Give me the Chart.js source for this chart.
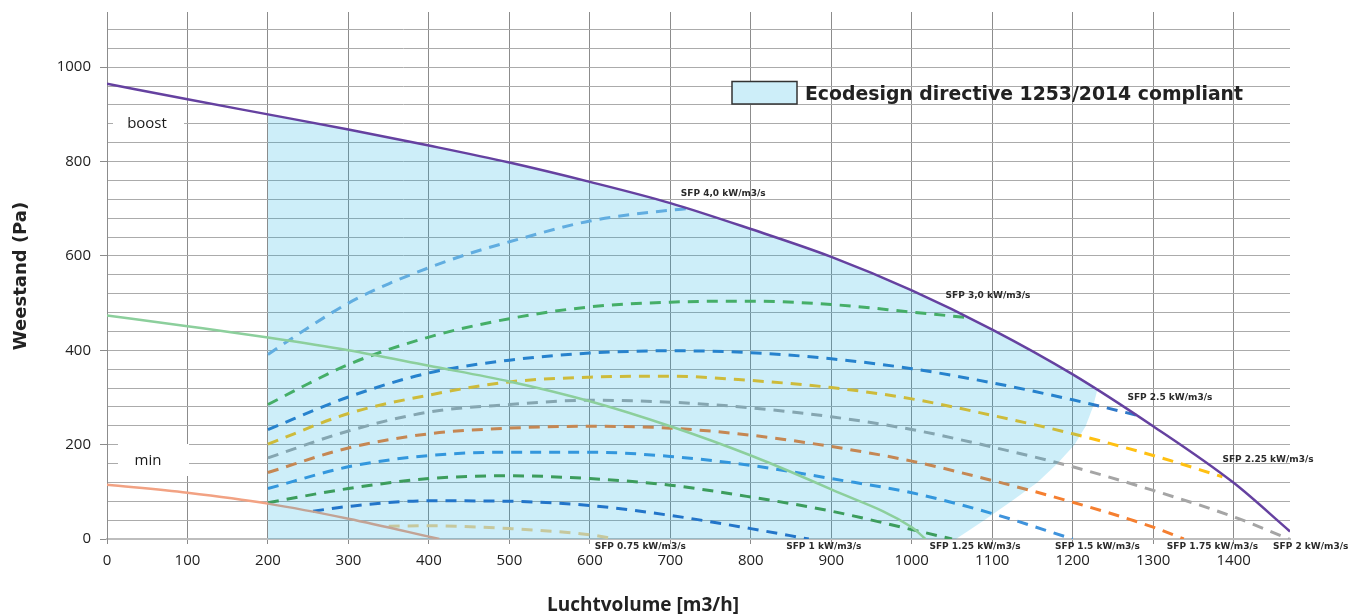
<!DOCTYPE html>
<html><head><meta charset="utf-8">
<script src="https://cdn.jsdelivr.net/npm/chart.js@4/dist/chart.umd.min.js"></script>
<style>html,body{margin:0;padding:0;background:#fff}canvas{display:block}</style>
</head><body>
<canvas id="c" width="1349" height="614"></canvas>
<script>
// ---- data ----
const boostFlow = [0,100,200,300,400,500,600,700,800,900,1000,1100,1200,1300,1400,1470];
const boostPa   = [965,932,900,868,834,798,757,712,657,598,527,444,349,239,119,16];

const normalFlow = [0,100,200,300,400,500,600,700,800,900,1000,1017];
const normalPa   = [474,451,427,400,367,334,292,239,177,105,25,0];

const minFlow = [0,100,200,300,413];
const minPa   = [115,98,75,43,0];

const compliantFlow = [200,300,400,500,600,700,800,900,1000,1100,1200,1231,1225,1216,1202,1181,1156,1123,1090,1055,200];
const compliantPa   = [900,868,834,798,757,712,657,598,527,444,349,319,279,239,199,160,120,79,40,0,0];

const sfp40Flow = [200,250,300,350,400,450,500,600,700,721];
const sfp40Pa   = [391,448,500,541,575,605,630,674,697,700];
const sfp30Flow = [200,250,300,400,500,600,700,800,900,1000,1065];
const sfp30Pa   = [285,329,370,428,467,492,502,504,497,481,470];
const sfp25Flow = [200,300,400,500,600,700,800,900,1000,1100,1200,1281];
const sfp25Pa   = [232,301,352,379,394,399,395,382,361,331,295,262];
const sfp225Flow = [200,300,400,500,600,700,800,900,1000,1100,1200,1300,1386];
const sfp225Pa   = [201,266,305,333,343,345,336,321,297,262,223,177,132];
const sfp20Flow = [200,300,400,500,600,700,800,900,1000,1100,1200,1300,1400,1469];
const sfp20Pa   = [172,229,269,285,294,290,278,259,232,195,153,103,47,0];
const sfp175Flow = [200,300,400,500,600,700,800,900,1000,1100,1200,1300,1338];
const sfp175Pa   = [141,193,223,235,239,235,220,196,165,124,78,25,0];
const sfp15Flow = [200,300,400,500,600,700,800,900,1000,1100,1200];
const sfp15Pa   = [107,153,177,184,184,175,156,128,98,54,0];
const sfp125Flow = [200,300,400,500,600,700,800,900,1000,1050];
const sfp125Pa   = [77,107,128,134,128,114,89,59,20,0];
const sfp10Flow = [256,300,400,500,600,700,800,872];
const sfp10Pa   = [59,69,81,80,71,50,22,0];
const sfp075Flow = [350,400,500,600,632];
const sfp075Pa   = [27,28,22,9,0];

const sfpNames = ['SFP 4,0 kW/m3/s','SFP 3,0 kW/m3/s','SFP 2.5 kW/m3/s','SFP 2.25 kW/m3/s','SFP 2 kW/m3/s',
                  'SFP 1.75 kW/m3/s','SFP 1.5 kW/m3/s','SFP 1.25 kW/m3/s','SFP 1 kW/m3/s','SFP 0.75 kW/m3/s'];
const legendText = 'Ecodesign directive 1253/2014 compliant';

// ---- layout of annotations (data coordinates) ----
const sfpLabelAt = [[713,732],[1042,516],[1268,300],[1386,168],[1449,-16],[1317,-16],[1178,-16],[1022,-16],[844,-16],[606,-16]];

const pts = (xs, ys) => xs.map((x, i) => ({x, y: ys[i]}));
const solid = (label, xs, ys, color, order) => ({
  label, data: pts(xs, ys), borderColor: color, borderWidth: 2.5, pointRadius: 0,
  fill: false, cubicInterpolationMode: 'monotone', order
});
const dashed = (label, xs, ys, color) => ({
  label, data: pts(xs, ys), borderColor: color, borderWidth: 3, borderDash: [11, 8], pointRadius: 0,
  fill: false, cubicInterpolationMode: 'monotone', order: 2
});

const annot = {
  id: 'annot',
  beforeDatasetsDraw(chart) {
    const ctx = chart.ctx;
    ctx.save();
    ctx.fillStyle = '#fff';
    ctx.fillRect(113, 110, 71, 28);
    ctx.fillRect(118, 444, 71, 32);
    ctx.fillStyle = '#1a1a1a';
    ctx.font = '15px "Open Sans"';
    ctx.textAlign = 'center'; ctx.textBaseline = 'middle';
    ctx.fillText('boost', 147, 124);
    ctx.fillText('min', 148, 461);
    ctx.restore();
  },
  afterDraw(chart) {
    const {ctx, scales: {x, y}} = chart;
    ctx.save();
    ctx.font = 'bold 9px "DejaVu Sans"';
    ctx.fillStyle = '#2b2b2b'; ctx.textAlign = 'left'; ctx.textBaseline = 'middle';
    sfpNames.forEach((t, i) => {
      ctx.fillText(t, x.getPixelForValue(sfpLabelAt[i][0]), y.getPixelForValue(sfpLabelAt[i][1]));
    });
    // legend
    ctx.fillStyle = '#cdeef9';
    ctx.fillRect(732, 81.5, 65, 22.5);
    ctx.strokeStyle = '#333'; ctx.lineWidth = 1.5;
    ctx.strokeRect(732, 81.5, 65, 22.5);
    ctx.fillStyle = '#222';
    ctx.font = 'bold 19px "DejaVu Sans"';
    ctx.textBaseline = 'alphabetic';
    ctx.fillText(legendText, 805, 100, 438);
    // axis titles
    ctx.font = 'bold 19px "Open Sans"';
    ctx.textAlign = 'center';
    ctx.fillText('Luchtvolume [m3/h]', 643, 611, 192);
    ctx.translate(21, 276);
    ctx.rotate(-Math.PI / 2);
    ctx.font = 'bold 18px "DejaVu Sans"';
    ctx.textBaseline = 'middle';
    ctx.fillText('Weestand (Pa)', 0, 0);
    ctx.restore();
  }
};

const noPad = s => { s.paddingTop = 0; s.paddingBottom = 0; s.paddingLeft = 0; s.paddingRight = 0; };

Chart.defaults.font.family = '"Open Sans"';
new Chart(document.getElementById('c'), {
  type: 'line',
  data: {
    datasets: [
      solid('boost', boostFlow, boostPa, '#6541a0', 0),
      solid('normal', normalFlow, normalPa, '#8ccf9c', 0),
      {
        label: legendText, data: pts(compliantFlow, compliantPa),
        borderWidth: 0, borderColor: 'rgba(0,0,0,0)', backgroundColor: 'rgba(5,170,225,0.2)',
        fill: 'shape', tension: 0, pointRadius: 0, order: 1
      },
      solid('min', minFlow, minPa, '#f2a283', 2),
      dashed(sfpNames[0], sfp40Flow, sfp40Pa, '#78aee0'),
      dashed(sfpNames[1], sfp30Flow, sfp30Pa, '#55b04a'),
      dashed(sfpNames[2], sfp25Flow, sfp25Pa, '#2f78c8'),
      dashed(sfpNames[3], sfp225Flow, sfp225Pa, '#ffc012'),
      dashed(sfpNames[4], sfp20Flow, sfp20Pa, '#a5a5a5'),
      dashed(sfpNames[5], sfp175Flow, sfp175Pa, '#f57f30'),
      dashed(sfpNames[6], sfp15Flow, sfp15Pa, '#3f93dc'),
      dashed(sfpNames[7], sfp125Flow, sfp125Pa, '#4a9a3c'),
      dashed(sfpNames[8], sfp10Flow, sfp10Pa, '#2a68c4'),
      dashed(sfpNames[9], sfp075Flow, sfp075Pa, '#f7d08c')
    ]
  },
  options: {
    responsive: false, animation: false,
    layout: {padding: {top: 12, right: 59, left: 0, bottom: 0}},
    plugins: {legend: {display: false}, tooltip: {enabled: false}},
    scales: {
      x: {
        type: 'linear', min: 0, max: 1470,
        ticks: {stepSize: 100, includeBounds: false, autoSkip: false, maxRotation: 0, color: '#222', font: {size: 15}, padding: 8,
                callback: v => String(v)},
        grid: {color: '#8c8c8c', tickLength: 5, tickColor: '#8c8c8c'},
        border: {color: '#bdbdbd', width: 2},
        afterFit(s) { s.height = 75; noPad(s); }
      },
      y: {
        type: 'linear', min: 0, max: 1117,
        ticks: {stepSize: 40, includeBounds: false, autoSkip: false, color: '#222', font: {size: 15}, padding: 9,
                callback: v => (v % 200 === 0 ? String(v) : '')},
        grid: {color: '#ababab', tickLength: 7,
               tickColor: c => (c.tick && c.tick.value % 200 === 0 ? '#8c8c8c' : 'rgba(0,0,0,0)')},
        border: {color: '#8c8c8c'},
        afterFit(s) { s.width = 107; noPad(s); }
      }
    }
  },
  plugins: [annot]
});
</script>
</body></html>
